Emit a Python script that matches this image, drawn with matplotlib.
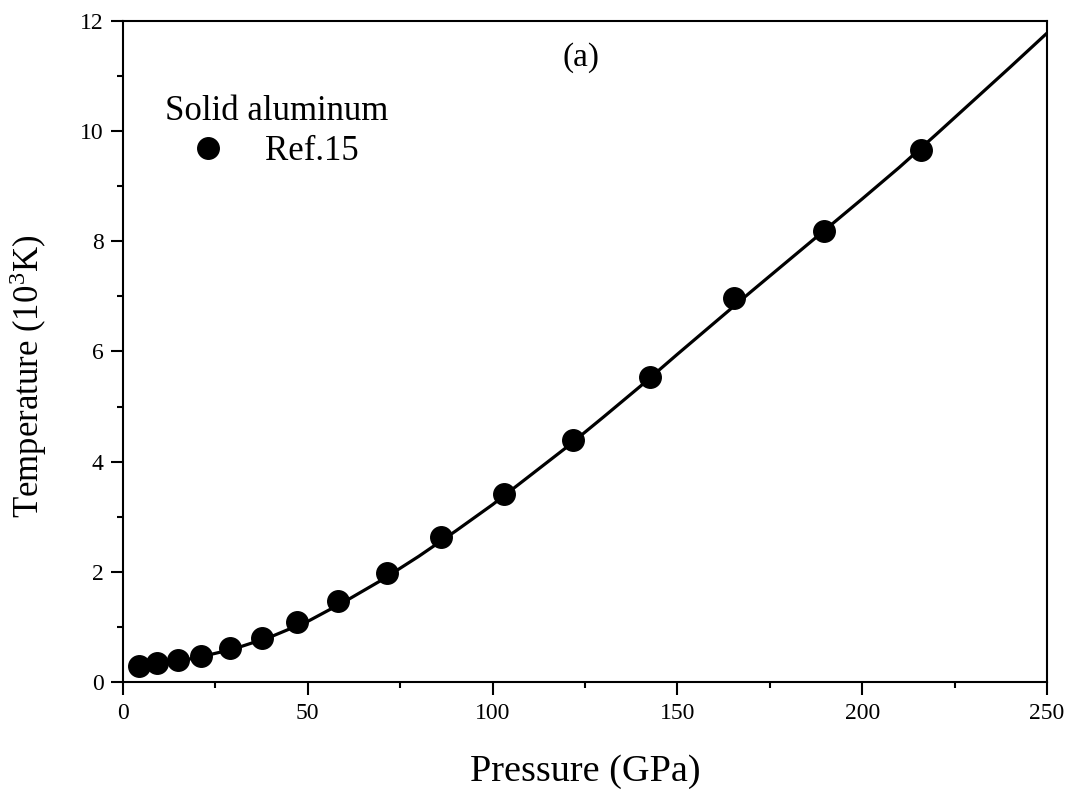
import matplotlib
matplotlib.use("Agg")
import matplotlib.pyplot as plt
from matplotlib.ticker import MultipleLocator

plt.rcParams['font.family'] = ['Liberation Serif', 'DejaVu Serif']
plt.rcParams['mathtext.fontset'] = 'stix'

# Reference data (Ref.15) points
ref_p = [4.3, 9.2, 14.9, 21.1, 29.0, 37.6, 47.1, 58.2, 71.4, 86.0, 103.1, 121.8, 142.6, 165.3, 189.7, 215.9]
ref_t = [0.29, 0.34, 0.40, 0.47, 0.62, 0.80, 1.09, 1.47, 1.98, 2.63, 3.41, 4.39, 5.54, 6.97, 8.19, 9.66]

# Calculated curve
curve_p = [4, 10, 20, 30, 40, 50, 60, 70, 80, 90, 100, 110, 120, 130, 140, 150,
           160, 170, 180, 190, 200, 210, 220, 230, 240, 250]
curve_t = [0.27, 0.32, 0.44, 0.60, 0.82, 1.10, 1.46, 1.85, 2.28, 2.74, 3.22, 3.74,
           4.26, 4.81, 5.37, 5.95, 6.52, 7.09, 7.65, 8.21, 8.77, 9.34, 9.94, 10.55,
           11.16, 11.78]

fig = plt.figure(figsize=(10.73, 7.94), dpi=100)
ax = fig.add_axes([0.1146, 0.1411, 0.8612, 0.8325])

ax.plot(curve_p, curve_t, color='black', lw=2.3, zorder=2)
ax.plot(ref_p, ref_t, 'o', color='black', ms=15.5, zorder=3, label='Ref.15')

ax.set_xlim(0, 250)
ax.set_ylim(0, 12)
ax.xaxis.set_major_locator(MultipleLocator(50))
ax.xaxis.set_minor_locator(MultipleLocator(25))
ax.yaxis.set_major_locator(MultipleLocator(2))
ax.yaxis.set_minor_locator(MultipleLocator(1))
ax.tick_params(which='both', direction='out', top=False, right=False, width=1.5, labelsize=17)
ax.tick_params(which='major', length=9)
ax.tick_params(which='minor', length=4.5)
ax.tick_params(axis='y', which='major', pad=5)
ax.tick_params(axis='x', which='major', pad=6)
for s in ax.spines.values():
    s.set_linewidth(1.5)

ax.set_xlabel('Pressure (GPa)', fontsize=27.5, labelpad=22)
ax.set_ylabel(r'Temperature (10$^{\mathregular{3}}$K)', fontsize=25)
ax.yaxis.set_label_coords(-0.080, 0.463)

ax.text(0.4957, 0.945, '(a)', transform=ax.transAxes, fontsize=24, ha='center', va='center')

leg = ax.legend(title='Solid aluminum', loc='upper left', bbox_to_anchor=(0.0187, 0.9245),
                frameon=False, fontsize=25, title_fontsize=25, numpoints=1,
                handlelength=2.48, handletextpad=0.4, labelspacing=0.2,
                alignment='left', borderpad=0.2)

fig.savefig('out.png', dpi=100)
